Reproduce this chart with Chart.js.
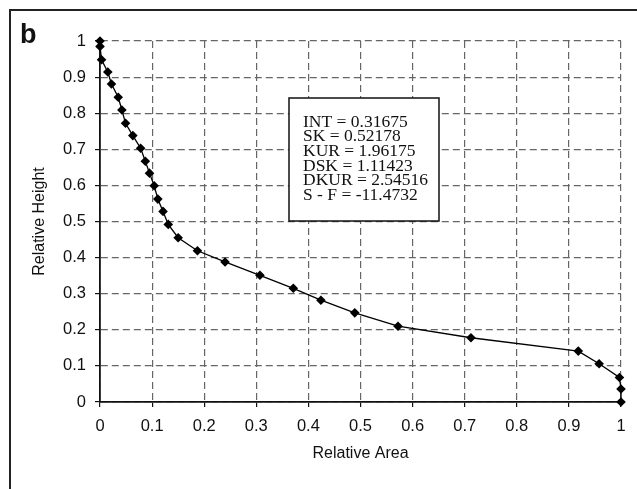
<!DOCTYPE html>
<html>
<head>
<meta charset="utf-8">
<script src="https://cdn.jsdelivr.net/npm/chart.js@4/dist/chart.umd.min.js"></script>
<style>
  html, body { margin: 0; padding: 0; background: #fff; }
  #wrap { position: relative; width: 637px; height: 489px; }
</style>
</head>
<body>
<div id="wrap"><canvas id="c" width="637" height="489"></canvas></div>
<script>
// 曲線資料
var relArea = [0, 0, 0.003, 0.015, 0.022, 0.035, 0.042, 0.049, 0.063, 0.078, 0.087, 0.095, 0.104, 0.111, 0.121, 0.131, 0.150, 0.187, 0.240, 0.307, 0.371, 0.424, 0.489, 0.572, 0.712, 0.918, 0.958, 0.997, 1.0, 1.0];
var relHeight = [1.0, 0.985, 0.948, 0.914, 0.881, 0.844, 0.809, 0.772, 0.738, 0.703, 0.667, 0.634, 0.599, 0.562, 0.528, 0.492, 0.455, 0.419, 0.388, 0.351, 0.315, 0.282, 0.247, 0.210, 0.178, 0.141, 0.106, 0.068, 0.036, 0.0];
var statsLines = ['INT = 0.31675', 'SK = 0.52178', 'KUR = 1.96175', 'DSK = 1.11423', 'DKUR = 2.54516', 'S - F = -11.4732'];
var panelLabel = 'b';

var points = relArea.map(function (x, i) {
  return { x: x, y: relHeight[i] };
});

// 外框、b 字與數值框
var decor = {
  id: 'decor',
  afterDraw: function (chart) {
    var ctx = chart.ctx;
    ctx.save();
    ctx.strokeStyle = '#222';
    ctx.lineWidth = 2;
    ctx.strokeRect(10, 10, 640, 500);

    ctx.fillStyle = '#111';
    ctx.font = 'bold 27px "Liberation Sans", Arial, sans-serif';
    ctx.textBaseline = 'alphabetic';
    ctx.fillText(panelLabel, 20, 43);

    ctx.fillStyle = '#fff';
    ctx.fillRect(289, 98, 150, 123);
    ctx.strokeStyle = '#111';
    ctx.lineWidth = 1.5;
    ctx.strokeRect(289, 98, 150, 123);

    ctx.fillStyle = '#111';
    ctx.font = '17.5px "Liberation Serif", "Times New Roman", serif';
    ctx.textBaseline = 'middle';
    statsLines.forEach(function (t, i) {
      ctx.fillText(t, 303, 122 + i * 14.7);
    });
    ctx.restore();
  }
};

var tickFont = { family: '"Liberation Sans", Arial, sans-serif', size: 16.5 };

new Chart(document.getElementById('c'), {
  type: 'scatter',
  data: {
    datasets: [{
      data: points,
      showLine: true,
      borderColor: '#000',
      borderWidth: 1.3,
      backgroundColor: '#000',
      pointStyle: 'rectRot',
      pointRadius: 4.8,
      pointBorderWidth: 0,
      clip: false
    }]
  },
  options: {
    responsive: false,
    animation: false,
    devicePixelRatio: 1,
    layout: { padding: { top: 41, right: 16, left: 30, bottom: 26 } },
    plugins: { legend: { display: false }, tooltip: { enabled: false } },
    scales: {
      x: {
        type: 'linear',
        min: 0, max: 1,
        afterFit: function (s) { s.height = 61; },
        ticks: { stepSize: 0.1, color: '#111', font: tickFont, padding: 10, maxRotation: 0,
          callback: function (v) { return Math.round(v * 10) / 10; } },
        grid: { color: '#666', lineWidth: 1.2, tickLength: 5, tickColor: '#111', tickBorderDash: [] },
        border: { display: true, color: '#111', width: 1.8, dash: [7, 4] },
        title: { display: true, text: 'Relative Area', color: '#111',
          font: { family: '"Liberation Sans", Arial, sans-serif', size: 16 }, padding: { top: 4, bottom: 0 } }
      },
      y: {
        type: 'linear',
        min: 0, max: 1,
        afterFit: function (s) { s.width = 70; },
        ticks: { stepSize: 0.1, color: '#111', font: tickFont, padding: 9,
          callback: function (v) { return Math.round(v * 10) / 10; } },
        grid: { color: '#666', lineWidth: 1.2, tickLength: 5, tickColor: '#111', tickBorderDash: [] },
        border: { display: true, color: '#111', width: 1.8, dash: [7, 4] },
        title: { display: true, text: 'Relative Height', color: '#111',
          font: { family: '"Liberation Sans", Arial, sans-serif', size: 16 }, padding: { top: 0, bottom: 4 } }
      }
    }
  },
  plugins: [decor]
});
</script>
</body>
</html>
